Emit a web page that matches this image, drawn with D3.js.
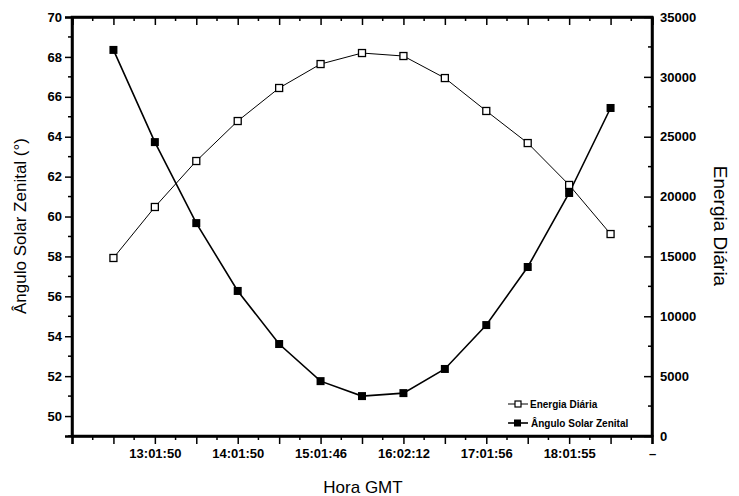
<!DOCTYPE html>
<html><head><meta charset="utf-8">
<script src="https://cdn.jsdelivr.net/npm/d3@7"></script>
<style>body{margin:0;background:#fff}svg{display:block}text{font-family:"Liberation Sans",Arial,sans-serif;fill:#000}</style>
</head><body><svg id="c" width="739" height="496"></svg>
<script>
// x positions (category index) of data points
const pointIndex = [1,2,3,4,5,6,7,8,9,10,11,12,13];
// Ângulo Solar Zenital (°), left axis
const anguloZenital = [68.35,63.73,59.67,56.27,53.61,51.75,51.0,51.15,52.36,54.56,57.47,61.18,65.44];
// Energia Diária, right axis
const energiaDiaria = [14870,19130,22970,26310,29070,31070,31990,31740,29900,27150,24470,20970,16870];
// bottom tick labels by category index 0..14
const xTickLabels = ["","","13:01:50","","14:01:50","","15:01:46","","16:02:12","","17:01:56","","18:01:55","","–"];
const leftTicks = [50,52,54,56,58,60,62,64,66,68,70];
const rightTicks = [0,5000,10000,15000,20000,25000,30000,35000];
const seriesNames = ["Energia Diária","Ângulo Solar Zenital"];

const svg = d3.select("#c");
const L=72,R=652,T=17,B=436;
const x = d3.scaleLinear().domain([0,14]).range([L,R]);
const yL = d3.scaleLinear().domain([49,70]).range([B,T]);
const yR = d3.scaleLinear().domain([0,35000]).range([B,T]);

// bottom axis
const bottomMajor = d3.range(0,15);
const bottomMinor = d3.range(0.5,14,1);
const gb = svg.append("g").attr("transform",`translate(0,${B})`);
gb.call(d3.axisBottom(x).tickValues(bottomMajor).tickSize(8).tickPadding(5).tickFormat(i=>xTickLabels[i]));
gb.call(g=>g.selectAll(".minor").data(bottomMinor).join("line").attr("class","minor")
  .attr("x1",d=>x(d)).attr("x2",d=>x(d)).attr("y1",0).attr("y2",4).attr("stroke","#000").attr("stroke-width",1.5));
// top axis (inward ticks, no labels)
const gt = svg.append("g").attr("transform",`translate(0,${T})`);
gt.call(d3.axisBottom(x).tickValues(bottomMajor).tickSize(8).tickFormat(""));
gt.call(g=>g.selectAll(".minor").data(bottomMinor).join("line").attr("class","minor")
  .attr("x1",d=>x(d)).attr("x2",d=>x(d)).attr("y1",0).attr("y2",4).attr("stroke","#000").attr("stroke-width",1.5));

// left axis
const gl = svg.append("g").attr("transform",`translate(${L},0)`);
gl.call(d3.axisLeft(yL).tickValues(leftTicks).tickSize(7).tickPadding(3));
gl.call(g=>g.selectAll(".minor").data(d3.range(49,70,2)).join("line").attr("class","minor")
  .attr("x1",0).attr("x2",-4).attr("y1",d=>yL(d)).attr("y2",d=>yL(d)).attr("stroke","#000").attr("stroke-width",1.5));
// right axis (inward ticks)
const gr = svg.append("g").attr("transform",`translate(${R},0)`);
gr.call(d3.axisRight(yR).tickValues(rightTicks).tickFormat(d3.format("d")).tickSizeInner(-8).tickSizeOuter(0).tickPadding(10));
gr.call(g=>g.selectAll(".minor").data(d3.range(2500,35000,5000)).join("line").attr("class","minor")
  .attr("x1",0).attr("x2",-4).attr("y1",d=>yR(d)).attr("y2",d=>yR(d)).attr("stroke","#000").attr("stroke-width",1.5));

svg.selectAll(".domain").attr("stroke","#000").attr("stroke-width",2.5);
svg.selectAll(".tick line").attr("stroke","#000").attr("stroke-width",1.5);
svg.selectAll(".tick text").style("font-size","13px").style("font-weight","bold").attr("fill","#111");
gr.selectAll(".tick text").attr("x",8);
// frame
svg.append("rect").attr("x",L).attr("y",T).attr("width",R-L).attr("height",B-T)
  .attr("fill","none").attr("stroke","#000").attr("stroke-width",2.5);

// lines
const lineE = d3.line().x((d,i)=>x(pointIndex[i])).y(d=>yR(d));
const lineA = d3.line().x((d,i)=>x(pointIndex[i])).y(d=>yL(d));
svg.append("path").datum(energiaDiaria).attr("d",lineE).attr("fill","none").attr("stroke","#000").attr("stroke-width",1);
svg.append("path").datum(anguloZenital).attr("d",lineA).attr("fill","none").attr("stroke","#000").attr("stroke-width",1.6);
const s1=7, s2=8;
svg.selectAll(".pe").data(energiaDiaria).join("rect").attr("class","pe")
  .attr("x",(d,i)=>x(pointIndex[i])-s1/2).attr("y",d=>yR(d)-s1/2).attr("width",s1).attr("height",s1)
  .attr("fill","#fff").attr("stroke","#000").attr("stroke-width",1.3);
svg.selectAll(".pa").data(anguloZenital).join("rect").attr("class","pa")
  .attr("x",(d,i)=>x(pointIndex[i])-s2/2).attr("y",d=>yL(d)-s2/2).attr("width",s2).attr("height",s2)
  .attr("fill","#000");

// legend
const lg = svg.append("g");
const rows=[{y:404,open:true},{y:423,open:false}];
rows.forEach((r,i)=>{
  lg.append("line").attr("x1",508).attr("x2",528).attr("y1",r.y).attr("y2",r.y).attr("stroke","#000").attr("stroke-width",r.open?1:1.6);
  if(r.open) lg.append("rect").attr("x",515).attr("y",r.y-3).attr("width",6).attr("height",6).attr("fill","#fff").attr("stroke","#000").attr("stroke-width",1.2);
  else lg.append("rect").attr("x",514).attr("y",r.y-3.5).attr("width",7).attr("height",7).attr("fill","#000");
  lg.append("text").attr("x",i===0?530:531).attr("y",r.y+3.5).text(seriesNames[i])
    .style("font-size","10px").style("font-weight","bold");
});

// axis titles
svg.append("text").attr("transform","translate(26,226) rotate(-90)").attr("text-anchor","middle")
  .style("font-size","17px").text("Ângulo Solar Zenital (°)");
svg.append("text").attr("transform","translate(714,226) rotate(90)").attr("text-anchor","middle")
  .style("font-size","19px").text("Energia Diária");
svg.append("text").attr("x",363).attr("y",493).attr("text-anchor","middle")
  .style("font-size","17px").text("Hora GMT");
</script></body></html>
